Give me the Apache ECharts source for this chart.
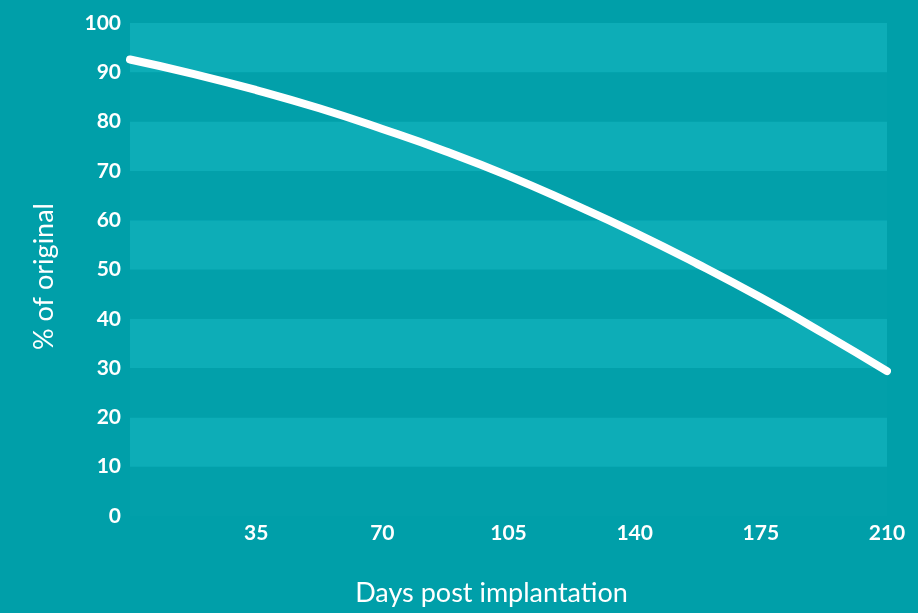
<!DOCTYPE html>
<html>
<head>
<meta charset="utf-8">
<script src="https://cdn.jsdelivr.net/npm/echarts@6/dist/echarts.min.js"></script>
<style>
  html, body { margin: 0; padding: 0; background: #009fa9; }
  #chart { width: 918px; height: 613px; }
</style>
</head>
<body>
<div id="chart"></div>
<script>
// days post implantation
var days = [0, 17.5, 35, 52.5, 70, 87.5, 105, 122.5, 140, 157.5, 175, 192.5, 210];
// % of original
var percent = [92.6, 89.7, 86.4, 82.7, 78.5, 74.0, 69.0, 63.4, 57.5, 51.1, 44.3, 37.0, 29.4];

var xTicks = [35, 70, 105, 140, 175, 210];

var chart = echarts.init(document.getElementById('chart'));

var fontFam = 'Lato, "Open Sans", sans-serif';

chart.setOption({
    backgroundColor: '#009fa9',
    animation: false,
    grid: {
        left: 130, right: 31, top: 23, bottom: 97,
        show: true, backgroundColor: '#02a0aa', borderWidth: 0
    },
    xAxis: {
        type: 'value',
        min: 0, max: 210, interval: 35,
        name: 'Days post implantation',
        nameLocation: 'middle',
        nameGap: 64,
        nameTextStyle: { color: '#fff', fontSize: 27, fontFamily: fontFam, padding: [0, 34, 0, 0] },
        axisLine: { show: false },
        axisTick: { show: false },
        splitLine: { show: false },
        axisLabel: {
            color: '#fff', fontSize: 21, fontWeight: 'bold', fontFamily: fontFam, margin: 7,
            formatter: function (v) { return xTicks.indexOf(v) >= 0 ? String(v) : ''; }
        }
    },
    yAxis: {
        type: 'value',
        min: 0, max: 100, interval: 10,
        name: '% of original',
        nameLocation: 'middle',
        nameGap: 72,
        nameTextStyle: { color: '#fff', fontSize: 27, fontFamily: fontFam, padding: [0, 14, 0, 0] },
        axisLine: { show: false },
        axisTick: { show: false },
        splitLine: { show: false },
        splitArea: { show: true, areaStyle: { color: ['#02a0aa', '#0dadb7'] } },
        axisLabel: {
            color: '#fff', fontSize: 21, fontWeight: 'bold', fontFamily: fontFam, margin: 9,
            padding: [0, 0, 6, 0]
        }
    },
    series: [{
        type: 'line',
        data: days.map(function (d, i) { return [d, percent[i]]; }),
        smooth: true,
        showSymbol: false,
        lineStyle: { color: '#ffffff', width: 8, cap: 'round' }
    }]
});
</script>
</body>
</html>
